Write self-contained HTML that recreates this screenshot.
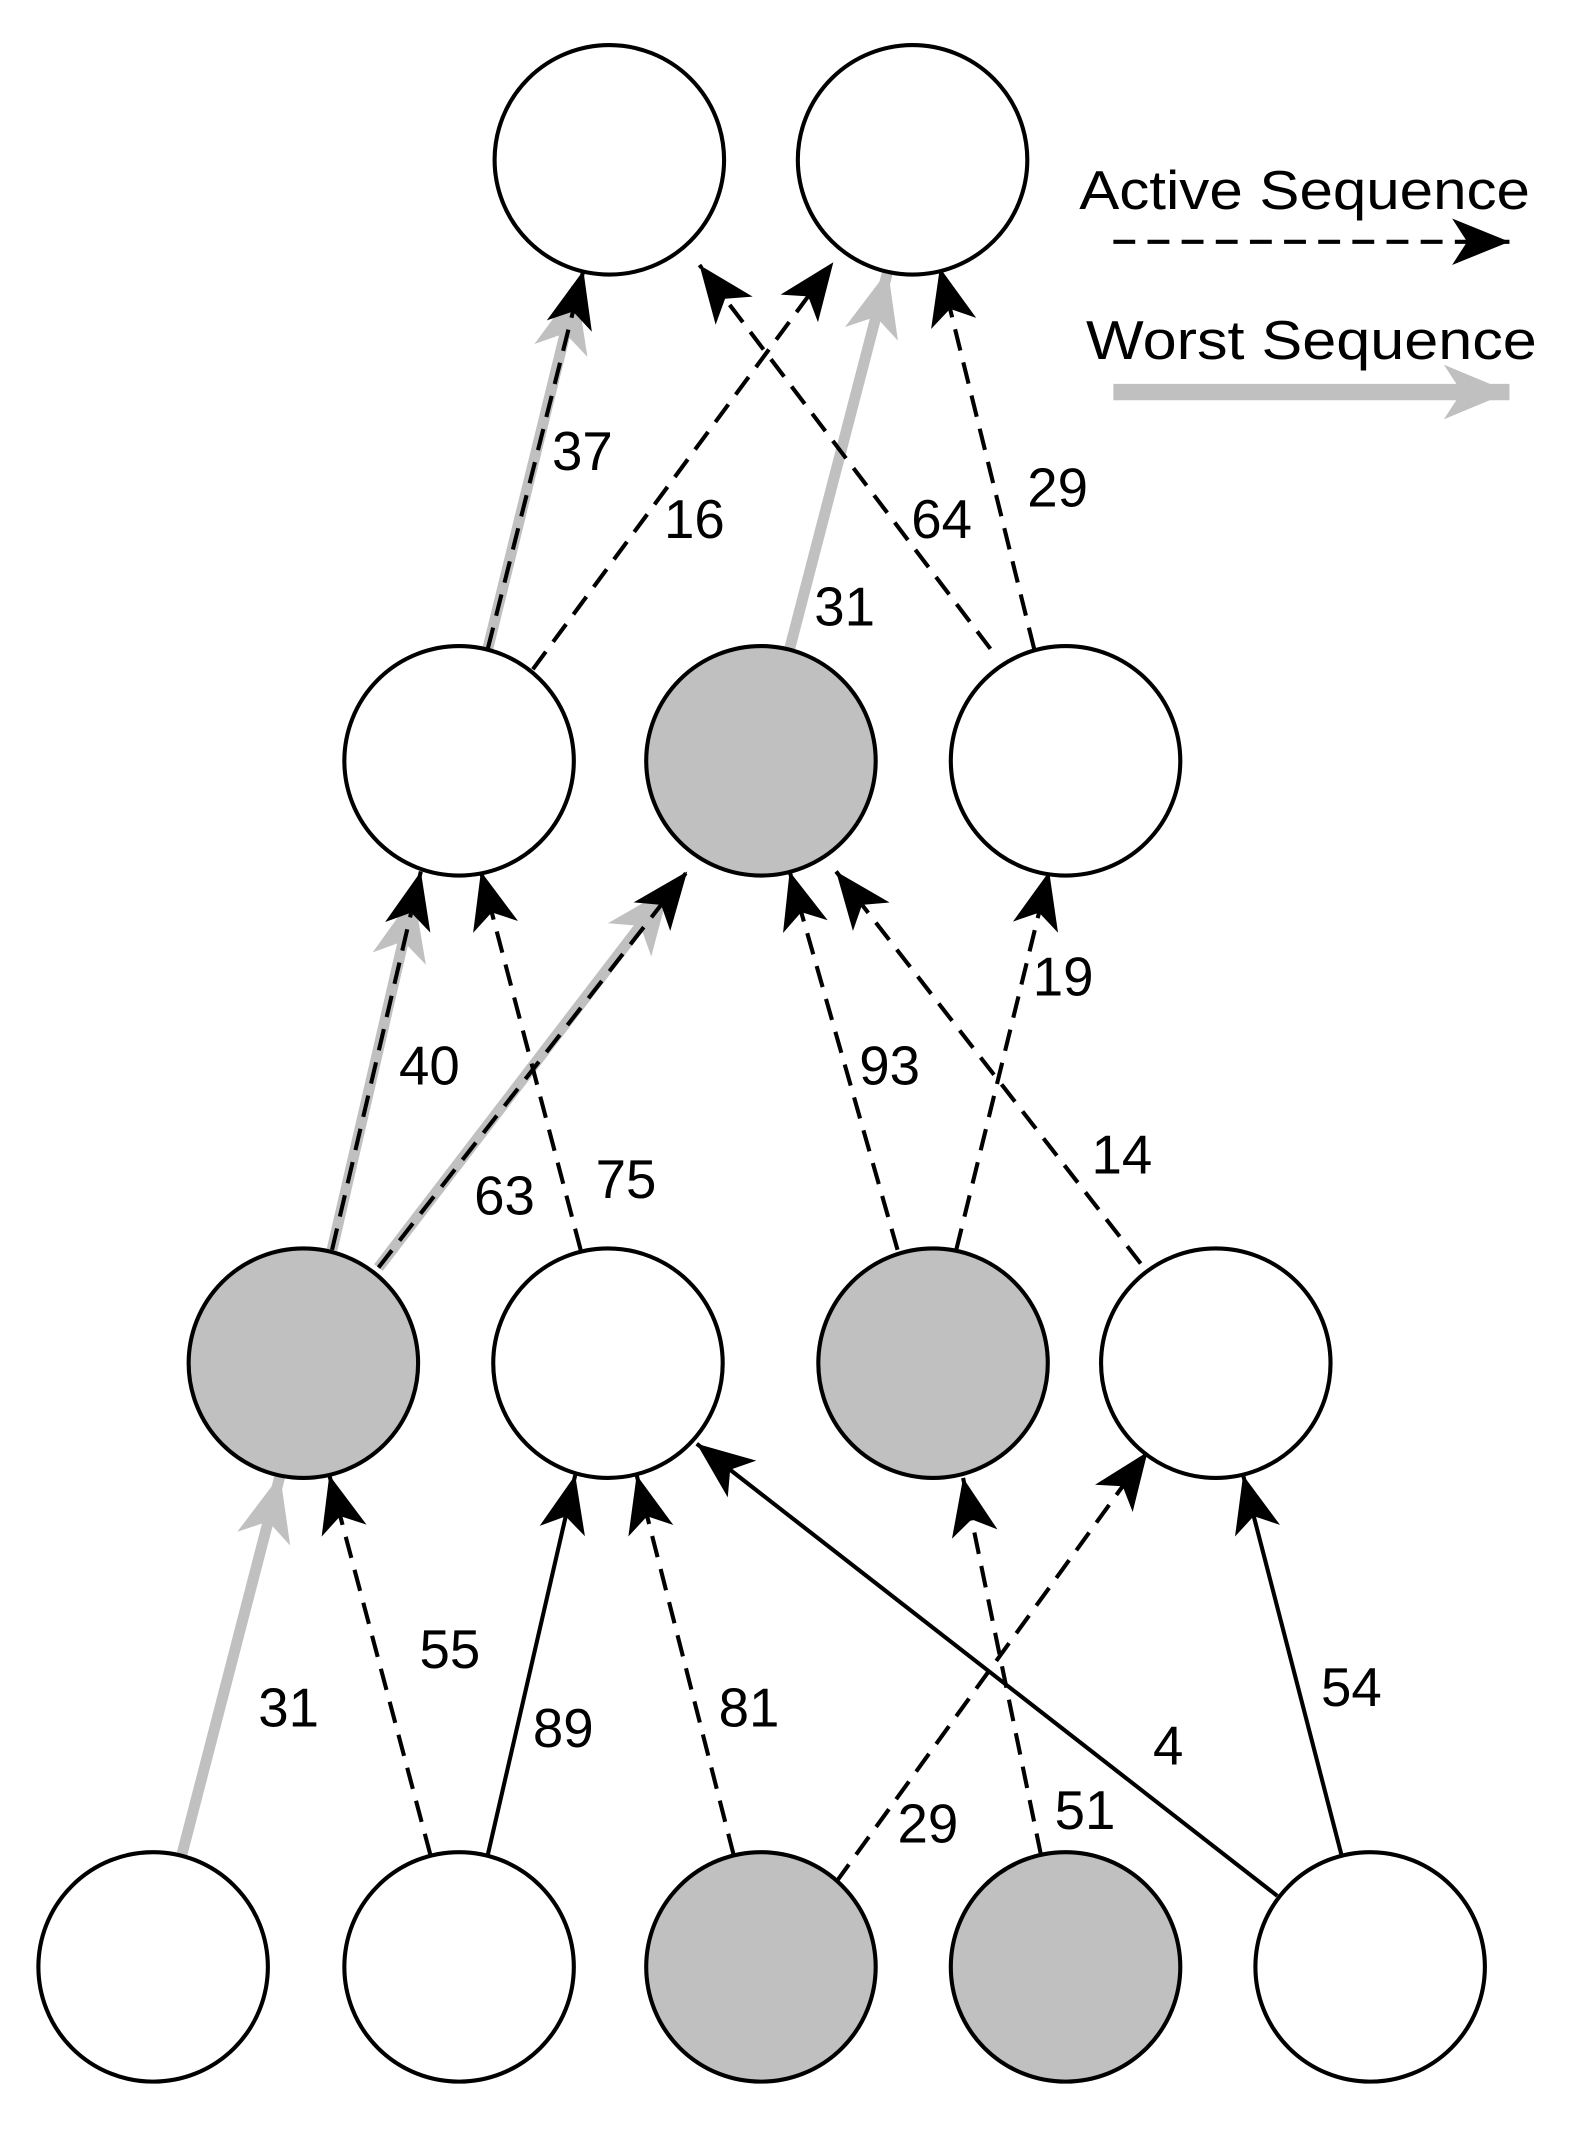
<!DOCTYPE html>
<html><head><style>
html,body{margin:0;padding:0;background:#fff;}
svg{display:block;}
text{font-family:"Liberation Sans",Arial,sans-serif;font-size:40px;fill:#000;}
</style></head><body>
<svg width="1582" height="2139" viewBox="0 0 1158 1566" xmlns="http://www.w3.org/2000/svg">
<defs>
<marker id="ab" markerUnits="userSpaceOnUse" markerWidth="44" markerHeight="36" refX="42" refY="17" orient="auto" viewBox="0 0 44 34">
<path d="M0,0 L42,17 L0,34 L11,17 Z" fill="#000"/>
</marker>
<marker id="ag" markerUnits="userSpaceOnUse" markerWidth="50" markerHeight="42" refX="48" refY="20" orient="auto" viewBox="0 0 50 40">
<path d="M0,0 L48,20 L0,40 L13,20 Z" fill="#c0c0c0"/>
</marker>
</defs>
<g stroke-linecap="butt">
<line x1="357" y1="475" x2="422" y2="210" stroke="#c0c0c0" stroke-width="8" marker-end="url(#ag)"/>
<line x1="578" y1="475" x2="650" y2="198" stroke="#c0c0c0" stroke-width="8" marker-end="url(#ag)"/>
<line x1="243" y1="915" x2="303" y2="655" stroke="#c0c0c0" stroke-width="8" marker-end="url(#ag)"/>
<line x1="277" y1="928" x2="490" y2="650" stroke="#c0c0c0" stroke-width="8" marker-end="url(#ag)"/>
<line x1="133" y1="1358" x2="205" y2="1080" stroke="#c0c0c0" stroke-width="8" marker-end="url(#ag)"/>

<g stroke="#000" stroke-width="3" stroke-dasharray="16,9" marker-end="url(#ab)" fill="none">
<line x1="357" y1="475" x2="427" y2="198"/>
<line x1="390" y1="490" x2="610" y2="192"/>
<line x1="725" y1="475" x2="512" y2="194"/>
<line x1="757" y1="475" x2="688" y2="196"/>
<line x1="243" y1="915" x2="308" y2="638"/>
<line x1="277" y1="928" x2="503" y2="638"/>
<line x1="425" y1="915" x2="352" y2="638"/>
<line x1="657" y1="915" x2="578" y2="638"/>
<line x1="700" y1="915" x2="768" y2="638"/>
<line x1="835" y1="925" x2="612" y2="638"/>
<line x1="315" y1="1358" x2="241" y2="1080"/>
<line x1="537" y1="1358" x2="466" y2="1080"/>
<line x1="612" y1="1378" x2="840" y2="1063"/>
<line x1="762" y1="1358" x2="705" y2="1082"/>
</g>
<g stroke="#000" stroke-width="3" marker-end="url(#ab)" fill="none">
<line x1="357" y1="1358" x2="421" y2="1080"/>
<line x1="935" y1="1388" x2="510" y2="1057"/>
<line x1="982" y1="1358" x2="910" y2="1080"/>
</g>
</g>
<g stroke="#000" stroke-width="3">
<circle cx="446" cy="117" r="84" fill="#fff"/>
<circle cx="668" cy="117" r="84" fill="#fff"/>
<circle cx="336" cy="557" r="84" fill="#fff"/>
<circle cx="557" cy="557" r="84" fill="#c0c0c0"/>
<circle cx="780" cy="557" r="84" fill="#fff"/>
<circle cx="222" cy="998" r="84" fill="#c0c0c0"/>
<circle cx="445" cy="998" r="84" fill="#fff"/>
<circle cx="683" cy="998" r="84" fill="#c0c0c0"/>
<circle cx="890" cy="998" r="84" fill="#fff"/>
<circle cx="112" cy="1440" r="84" fill="#fff"/>
<circle cx="336" cy="1440" r="84" fill="#fff"/>
<circle cx="557" cy="1440" r="84" fill="#c0c0c0"/>
<circle cx="780" cy="1440" r="84" fill="#c0c0c0"/>
<circle cx="1003" cy="1440" r="84" fill="#fff"/>
</g>
<text x="790" y="153" textLength="330" lengthAdjust="spacingAndGlyphs">Active Sequence</text>
<line x1="815" y1="177" x2="1105" y2="177" stroke="#000" stroke-width="3" stroke-dasharray="16,9" marker-end="url(#ab)"/>
<text x="795" y="263" textLength="330" lengthAdjust="spacingAndGlyphs">Worst Sequence</text>
<line x1="815" y1="287" x2="1105" y2="287" stroke="#c0c0c0" stroke-width="12" marker-end="url(#ag)"/>
<text x="404" y="344">37</text>
<text x="486" y="394">16</text>
<text x="596" y="458">31</text>
<text x="667" y="394">64</text>
<text x="752" y="371">29</text>
<text x="292" y="794">40</text>
<text x="347" y="889">63</text>
<text x="436" y="877">75</text>
<text x="629" y="794">93</text>
<text x="756" y="729">19</text>
<text x="799" y="859">14</text>
<text x="189" y="1264">31</text>
<text x="307" y="1221">55</text>
<text x="390" y="1279">89</text>
<text x="526" y="1264">81</text>
<text x="657" y="1349">29</text>
<text x="772" y="1339">51</text>
<text x="844" y="1292">4</text>
<text x="967" y="1249">54</text>
</svg>
</body></html>
